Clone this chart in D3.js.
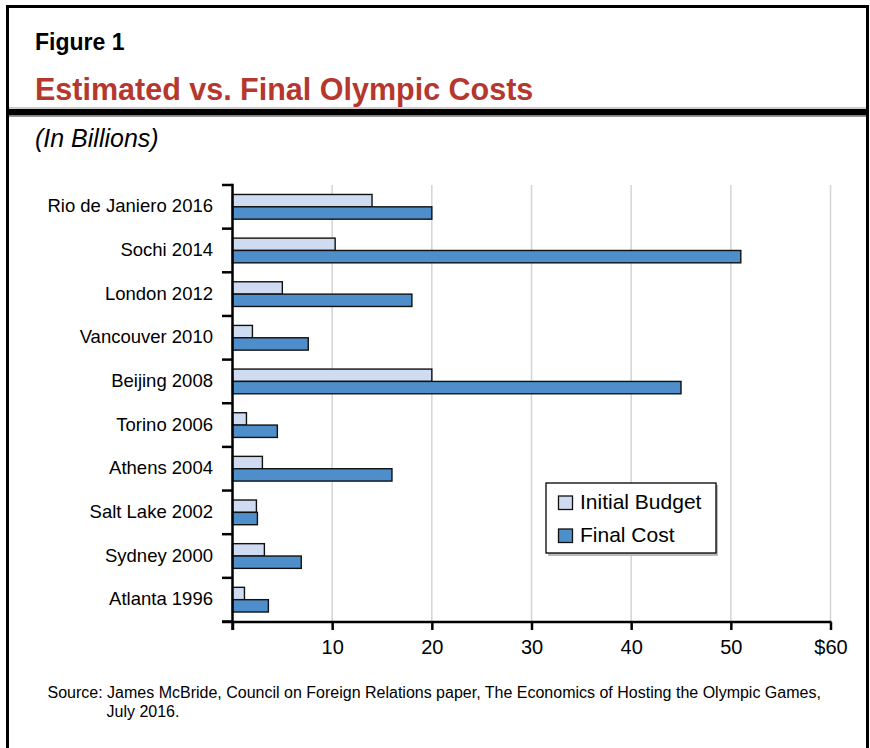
<!DOCTYPE html>
<html>
<head>
<meta charset="utf-8">
<script src="https://cdn.jsdelivr.net/npm/d3@7"></script>
<style>
  html, body { margin: 0; padding: 0; background: #fff; }
  svg { display: block; font-family: "Liberation Sans", Arial, Helvetica, sans-serif; }
</style>
</head>
<body>
<svg id="chart" width="870" height="748"></svg>
<script>
// ---- Data ----
const categories = ["Rio de Janiero 2016", "Sochi 2014", "London 2012", "Vancouver 2010",
  "Beijing 2008", "Torino 2006", "Athens 2004", "Salt Lake 2002", "Sydney 2000", "Atlanta 1996"];
const seriesNames = ["Initial Budget", "Final Cost"];
const initialBudget = [14.0, 10.3, 5.0, 2.0, 20.0, 1.4, 3.0, 2.4, 3.2, 1.2];
const finalCost = [20.0, 51.0, 18.0, 7.6, 45.0, 4.5, 16.0, 2.5, 6.9, 3.6];
const xTicks = [0, 10, 20, 30, 40, 50, 60];
const xTickLabels = ["", "10", "20", "30", "40", "50", "$60"];

const seriesValues = [initialBudget, finalCost];
const colors = ["#cfdbf1", "#4d8ecb"];

const svg = d3.select("#chart");

// ---- Frame ----
svg.append("rect").attr("x", 7.5).attr("y", 6.5).attr("width", 860).attr("height", 780)
  .attr("fill", "none").attr("stroke", "#000").attr("stroke-width", 3);
svg.append("rect").attr("x", 6).attr("y", 109).attr("width", 863).attr("height", 6.5).attr("fill", "#000");
svg.append("line").attr("x1", 9).attr("x2", 866).attr("y1", 108).attr("y2", 108).attr("stroke", "#999").attr("stroke-width", 1);
svg.append("line").attr("x1", 9).attr("x2", 866).attr("y1", 116.5).attr("y2", 116.5).attr("stroke", "#999").attr("stroke-width", 1);

// ---- Titles ----
svg.append("text").attr("x", 35).attr("y", 50).attr("font-size", 23).attr("font-weight", "bold")
  .attr("fill", "#000").text("Figure 1");
svg.append("text").attr("x", 35).attr("y", 100).attr("font-size", 30.5).attr("font-weight", "bold")
  .attr("fill", "#b5372e").text("Estimated vs. Final Olympic Costs");
svg.append("text").attr("x", 35).attr("y", 147).attr("font-size", 25).attr("font-style", "italic")
  .attr("fill", "#000").text("(In Billions)");

// ---- Scales ----
const x = d3.scaleLinear().domain([0, 60]).range([232.5, 830.5]);
const y0 = d3.scaleBand().domain(categories).range([185, 621.5]).padding(0);
const y1 = d3.scaleBand().domain(seriesNames).range([0, y0.bandwidth()]).paddingInner(0).paddingOuter(0.767);

// ---- Gridlines ----
svg.append("g").selectAll("line").data(xTicks.filter(d => d > 0)).join("line")
  .attr("x1", d => x(d)).attr("x2", d => x(d))
  .attr("y1", 185).attr("y2", 621.5)
  .attr("stroke", "#d4d4d4").attr("stroke-width", 1.5);

// ---- Bars ----
const rows = categories.map((c, i) => ({ cat: c, vals: seriesNames.map((s, j) => ({ s, j, v: seriesValues[j][i] })) }));
const g = svg.append("g");
g.selectAll("g.row").data(rows).join("g").attr("class", "row")
  .attr("transform", d => `translate(0,${y0(d.cat)})`)
  .selectAll("rect").data(d => d.vals).join("rect")
  .attr("x", x(0))
  .attr("y", d => y1(d.s))
  .attr("width", d => x(d.v) - x(0))
  .attr("height", y1.bandwidth())
  .attr("fill", d => colors[d.j])
  .attr("stroke", "#111").attr("stroke-width", 1.4);

// ---- X axis ----
const xAxis = d3.axisBottom(x).tickValues(xTicks).tickSize(8).tickSizeOuter(0)
  .tickFormat((d, i) => xTickLabels[i]);
const gx = svg.append("g").attr("transform", "translate(0,622)").call(xAxis);
gx.select(".domain").remove();
gx.selectAll(".tick line").attr("stroke", "#000").attr("stroke-width", 2.5);
gx.selectAll(".tick text").attr("font-size", 20).attr("fill", "#000")
  .attr("font-family", "'Liberation Sans', Arial, Helvetica, sans-serif")
  .attr("dy", null).attr("y", 32);
svg.append("line").attr("x1", 222).attr("x2", 831.5).attr("y1", 622).attr("y2", 622)
  .attr("stroke", "#000").attr("stroke-width", 2.5);

// ---- Y axis ----
const boundaries = categories.map(c => y0(c)).concat([y0.range()[1]]);
svg.append("g").selectAll("line").data(boundaries).join("line")
  .attr("x1", 222).attr("x2", x(0)).attr("y1", d => d).attr("y2", d => d)
  .attr("stroke", "#000").attr("stroke-width", 2.5);
svg.append("line").attr("x1", x(0)).attr("x2", x(0)).attr("y1", 183.8).attr("y2", 630)
  .attr("stroke", "#000").attr("stroke-width", 2.5);
const yAxis = d3.axisLeft(y0).tickSize(0).tickPadding(19.5);
const gy = svg.append("g").attr("transform", `translate(${x(0)},0)`).call(yAxis);
gy.select(".domain").remove();
gy.selectAll(".tick text").attr("font-size", 18.5).attr("fill", "#000")
  .attr("font-family", "'Liberation Sans', Arial, Helvetica, sans-serif")
  .attr("dy", "0.3em");

// ---- Legend ----
const lg = svg.append("g");
lg.append("rect").attr("x", 548).attr("y", 485).attr("width", 170).attr("height", 71).attr("fill", "#bbb");
lg.append("rect").attr("x", 546).attr("y", 483).attr("width", 170).attr("height", 70)
  .attr("fill", "#fff").attr("stroke", "#000").attr("stroke-width", 1.3);
seriesNames.forEach((s, j) => {
  lg.append("rect").attr("x", 558.5).attr("y", 496 + j * 33).attr("width", 14).attr("height", 13.5)
    .attr("fill", colors[j]).attr("stroke", "#111").attr("stroke-width", 1.3);
  lg.append("text").attr("x", 580).attr("y", 508.5 + j * 33).attr("font-size", 21).attr("fill", "#000").text(s);
});

// ---- Source ----
const src = svg.append("text").attr("font-size", 16).attr("fill", "#000");
src.append("tspan").attr("x", 47.5).attr("y", 697.5)
  .text("Source: James McBride, Council on Foreign Relations paper, The Economics of Hosting the Olympic Games,");
src.append("tspan").attr("x", 106.5).attr("y", 716.5).text("July 2016.");
</script>
</body>
</html>
